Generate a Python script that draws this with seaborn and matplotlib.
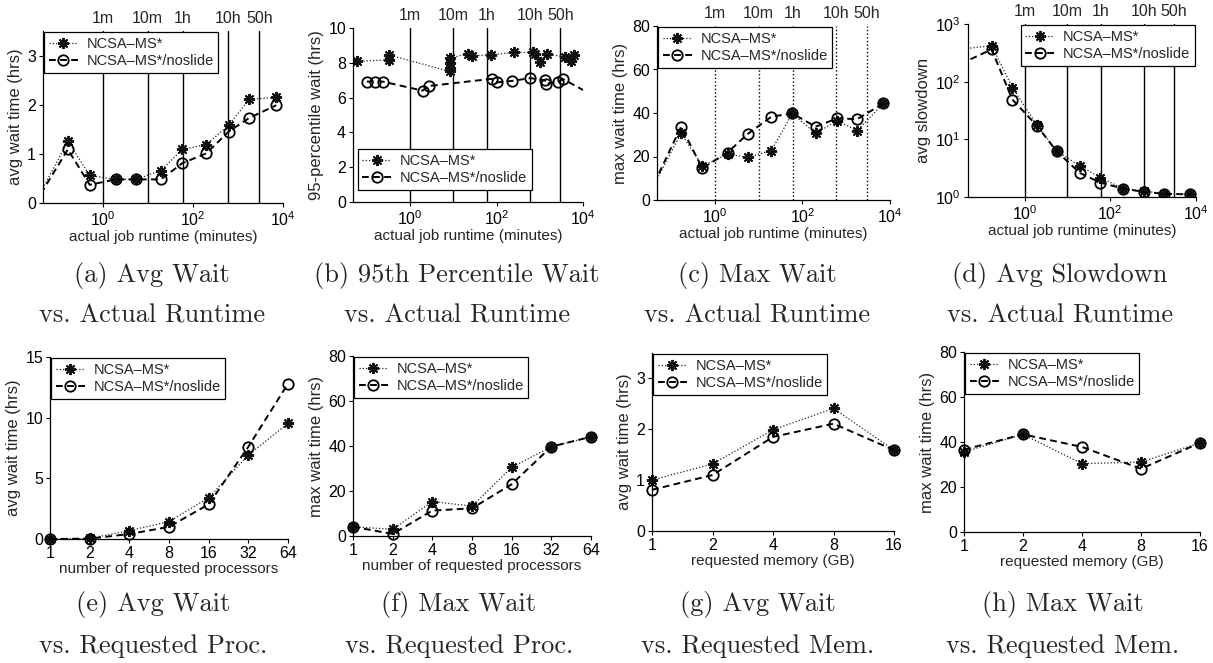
import matplotlib
matplotlib.use("Agg")
import matplotlib.pyplot as plt
import matplotlib.transforms as mtransforms
from matplotlib.ticker import NullLocator, FixedLocator
import pandas as pd
import seaborn as sns

# ---------------- data ----------------
# runtime bins (minutes) used by the avg / max / slowdown panels
runtime_bins = [0.032, 0.17, 0.52, 1.95, 5.6, 19.5, 59, 200, 620, 1780, 7100]

avgwait_ms = [0.0, 1.26, 0.56, 0.48, 0.48, 0.66, 1.09, 1.19, 1.58, 2.11, 2.15]
avgwait_ns = [0.0, 1.09, 0.37, 0.48, 0.48, 0.48, 0.81, 1.01, 1.45, 1.73, 1.99]

maxwait_ms = [3.0, 30.6, 15.6, 21.1, 19.6, 22.7, 39.8, 30.6, 36.5, 31.9, 44.4]
maxwait_ns = [3.0, 33.7, 14.6, 21.8, 30.3, 38.3, 39.8, 33.7, 37.5, 37.2, 44.4]

slowdown_ms = [365, 420, 79, 17.6, 6.3, 3.45, 2.17, 1.40, 1.27, 1.14, 1.11]
slowdown_ns = [203, 363, 49, 17.1, 6.2, 2.61, 1.77, 1.40, 1.22, 1.14, 1.11]

# 95th-percentile wait: irregular runtime points per series
p95_ms_runtime = [0.059, 0.32, 0.32, 8.3, 8.3, 8.3, 8.3, 21.4, 26.9, 74,
                  257, 708, 759, 1000, 1445, 3800, 5370, 6030]
p95_ms_wait = [8.08, 8.17, 8.46, 8.27, 7.98, 7.69, 7.50, 8.52, 8.40, 8.46,
               8.60, 8.60, 8.52, 8.02, 8.52, 8.33, 8.08, 8.46]
p95_ns_runtime = [0.10, 0.155, 0.234, 1.95, 2.8, 78, 100, 229, 603, 1318,
                  1380, 2690, 3470, 15850]
p95_ns_wait = [6.92, 6.92, 6.92, 6.40, 6.67, 7.08, 6.87, 6.96, 7.12, 7.00,
               6.79, 6.92, 7.06, 6.17]

# requested processors
procs = [1, 2, 4, 8, 16, 32, 64]
proc_avg_ms = [0.0, 0.05, 0.69, 1.43, 3.40, 6.92, 9.53]
proc_avg_ns = [0.0, 0.03, 0.41, 1.00, 2.86, 7.60, 12.8]
proc_max_ms = [4.1, 3.0, 15.3, 13.3, 30.5, 39.7, 44.1]
proc_max_ns = [4.1, 0.9, 11.3, 12.3, 23.0, 39.7, 44.1]

# requested memory (GB)
mem = [1, 2, 4, 8, 16]
mem_avg_ms = [1.00, 1.32, 1.99, 2.41, 1.59]
mem_avg_ns = [0.81, 1.10, 1.85, 2.11, 1.59]
mem_max_ms = [35.6, 43.4, 30.4, 31.1, 39.6]
mem_max_ns = [36.6, 43.4, 37.8, 28.1, 39.6]

# runtime reference marks
ref_minutes = [1, 10, 60, 600, 3000]
ref_labels = ["1m", "10m", "1h", "10h", "50h"]

label_ms = "NCSA\u2013MS*"
label_ns = "NCSA\u2013MS*/noslide"

# ---------------- style ----------------
sns.set_style("ticks")
plt.rcParams["font.family"] = ["Liberation Sans", "DejaVu Sans"]
plt.rcParams["mathtext.fontset"] = "custom"
plt.rcParams["mathtext.rm"] = "Liberation Sans"
plt.rcParams["mathtext.it"] = "Liberation Sans:italic"
plt.rcParams["axes.linewidth"] = 0.9
plt.rcParams["axes.edgecolor"] = "black"

MS_KW = dict(color="#222222", linestyle=(0, (1, 1.6)), linewidth=0.9,
             marker=(8, 2, 0), markersize=8, markeredgewidth=1.4,
             markeredgecolor="#111111")
NS_KW = dict(color="black", linestyle=(0, (3.5, 2.2)), linewidth=1.4,
             marker="o", markersize=7.5, markerfacecolor="none",
             markeredgewidth=1.3, markeredgecolor="black")

W, H = 1213, 663
fig = plt.figure(figsize=(W / 100, H / 100), dpi=100)


def px_axes(left, right, top, bottom):
    return fig.add_axes([left / W, 1 - bottom / H, (right - left) / W,
                         (bottom - top) / H])


def series(ax, x, y, kw, label, clip=True):
    df = pd.DataFrame({"x": x, "y": y})
    sns.lineplot(data=df, x="x", y="y", ax=ax, estimator=None, sort=True,
                 errorbar=None, label=label, clip_on=clip, **kw)


def style_axes(ax, xlabel, ylabel):
    sns.despine(ax=ax)
    ax.tick_params(direction="out", length=3, width=0.8, labelsize=11.5,
                   pad=2, colors="black")
    ax.set_xlabel(xlabel, fontsize=11, labelpad=1)
    ax.set_ylabel(ylabel, fontsize=12, labelpad=3)


def legend(ax, **kw):
    lg = ax.legend(frameon=True, fancybox=False, edgecolor="black",
                   framealpha=1, fontsize=10.5, handlelength=2.0,
                   borderpad=0.3, labelspacing=0.25, handletextpad=0.6,
                   **kw)
    lg.get_frame().set_linewidth(0.9)
    return lg


def runtime_axes(ax, ref_ls="-"):
    ax.set_xscale("log")
    ax.set_xlim(10 ** -1.32, 1e4)
    ax.xaxis.set_major_locator(FixedLocator([1, 1e2, 1e4]))
    ax.xaxis.set_minor_locator(NullLocator())
    tr = mtransforms.blended_transform_factory(ax.transData, ax.transAxes)
    for m, lab in zip(ref_minutes, ref_labels):
        ax.axvline(m, color="black", linewidth=1.0, linestyle=ref_ls, zorder=1)
        ax.text(m, 1.03, lab, transform=tr, ha="center", va="bottom",
                fontsize=11.5)


def caption(xc, y1, y2, l1, l2):
    fig.text(xc / W, 1 - y1 / H, l1, ha="center", va="center",
             fontsize=19, family="cmr10")
    fig.text(xc / W, 1 - y2 / H, l2, ha="center", va="center",
             fontsize=19, family="cmr10")


# (a) avg wait vs runtime
ax = px_axes(43, 283, 31, 203)
runtime_axes(ax)
series(ax, runtime_bins, avgwait_ms, MS_KW, label_ms)
series(ax, runtime_bins, avgwait_ns, NS_KW, label_ns)
ax.set_ylim(0, 3.5)
ax.set_yticks([0, 1, 2, 3])
style_axes(ax, "actual job runtime (minutes)", "avg wait time (hrs)")
legend(ax, loc="upper left", bbox_to_anchor=(0.0, 1.0), borderaxespad=0.1)

# (b) 95th percentile wait vs runtime
ax = px_axes(353, 583, 28, 202)
runtime_axes(ax)
series(ax, p95_ms_runtime, p95_ms_wait, MS_KW, label_ms)
series(ax, p95_ns_runtime, p95_ns_wait, NS_KW, label_ns)
ax.set_ylim(0, 10)
ax.set_yticks([0, 2, 4, 6, 8, 10])
style_axes(ax, "actual job runtime (minutes)", "95-percentile wait (hrs)")
legend(ax, loc="lower left", bbox_to_anchor=(0.02, 0.07), borderaxespad=0.0)

# (c) max wait vs runtime
ax = px_axes(657, 890, 26, 200)
runtime_axes(ax, ref_ls=":")
series(ax, runtime_bins, maxwait_ms, MS_KW, label_ms)
series(ax, runtime_bins, maxwait_ns, NS_KW, label_ns)
ax.set_ylim(0, 80)
ax.set_yticks([0, 20, 40, 60, 80])
style_axes(ax, "actual job runtime (minutes)", "max wait time (hrs)")
legend(ax, loc="upper left", bbox_to_anchor=(0.0, 1.0), borderaxespad=0.1)

# (d) avg slowdown vs runtime
ax = px_axes(968, 1196, 24, 197)
runtime_axes(ax)
series(ax, runtime_bins, slowdown_ms, MS_KW, label_ms)
series(ax, runtime_bins, slowdown_ns, NS_KW, label_ns)
ax.set_yscale("log")
ax.set_ylim(1, 1000)
ax.yaxis.set_major_locator(FixedLocator([1, 10, 100, 1000]))
ax.yaxis.set_minor_locator(NullLocator())
style_axes(ax, "actual job runtime (minutes)", "avg slowdown")
legend(ax, loc="upper right", bbox_to_anchor=(1.0, 1.0), borderaxespad=0.1)


def log2_axes(ax, ticks):
    ax.set_xscale("log", base=2)
    ax.set_xlim(ticks[0], ticks[-1])
    ax.xaxis.set_major_locator(FixedLocator(ticks))
    ax.xaxis.set_minor_locator(NullLocator())
    ax.set_xticklabels([str(t) for t in ticks])


# (e) avg wait vs processors
ax = px_axes(50, 288, 357, 539)
series(ax, procs, proc_avg_ms, MS_KW, label_ms, clip=False)
series(ax, procs, proc_avg_ns, NS_KW, label_ns, clip=False)
log2_axes(ax, procs)
ax.set_ylim(0, 15)
ax.set_yticks([0, 5, 10, 15])
style_axes(ax, "number of requested processors", "avg wait time (hrs)")
legend(ax, loc="upper left", bbox_to_anchor=(0.0, 1.0), borderaxespad=0.1)

# (f) max wait vs processors
ax = px_axes(353, 591, 356, 536)
series(ax, procs, proc_max_ms, MS_KW, label_ms, clip=False)
series(ax, procs, proc_max_ns, NS_KW, label_ns, clip=False)
log2_axes(ax, procs)
ax.set_ylim(0, 80)
ax.set_yticks([0, 20, 40, 60, 80])
style_axes(ax, "number of requested processors", "max wait time (hrs)")
legend(ax, loc="upper left", bbox_to_anchor=(0.0, 1.0), borderaxespad=0.1)

# (g) avg wait vs memory
ax = px_axes(652, 894, 353, 531)
series(ax, mem, mem_avg_ms, MS_KW, label_ms, clip=False)
series(ax, mem, mem_avg_ns, NS_KW, label_ns, clip=False)
log2_axes(ax, mem)
ax.set_ylim(0, 3.5)
ax.set_yticks([0, 1, 2, 3])
style_axes(ax, "requested memory (GB)", "avg wait time (hrs)")
legend(ax, loc="upper left", bbox_to_anchor=(0.0, 1.0), borderaxespad=0.1)

# (h) max wait vs memory
ax = px_axes(964, 1200, 352, 532)
series(ax, mem, mem_max_ms, MS_KW, label_ms, clip=False)
series(ax, mem, mem_max_ns, NS_KW, label_ns, clip=False)
log2_axes(ax, mem)
ax.set_ylim(0, 80)
ax.set_yticks([0, 20, 40, 60, 80])
style_axes(ax, "requested memory (GB)", "max wait time (hrs)")
legend(ax, loc="upper left", bbox_to_anchor=(0.0, 1.0), borderaxespad=0.1)

# sub-figure captions
caption(152, 275, 316, "(a) Avg Wait", "vs. Actual Runtime")
caption(457, 275, 316, "(b) 95th Percentile Wait", "vs. Actual Runtime")
caption(757, 275, 316, "(c) Max Wait", "vs. Actual Runtime")
caption(1060, 275, 316, "(d) Avg Slowdown", "vs. Actual Runtime")
caption(153, 605, 646, "(e) Avg Wait", "vs. Requested Proc.")
caption(459, 605, 646, "(f) Max Wait", "vs. Requested Proc.")
caption(758, 605, 646, "(g) Avg Wait", "vs. Requested Mem.")
caption(1063, 605, 646, "(h) Max Wait", "vs. Requested Mem.")

fig.savefig("out.png", dpi=100, facecolor="white")
